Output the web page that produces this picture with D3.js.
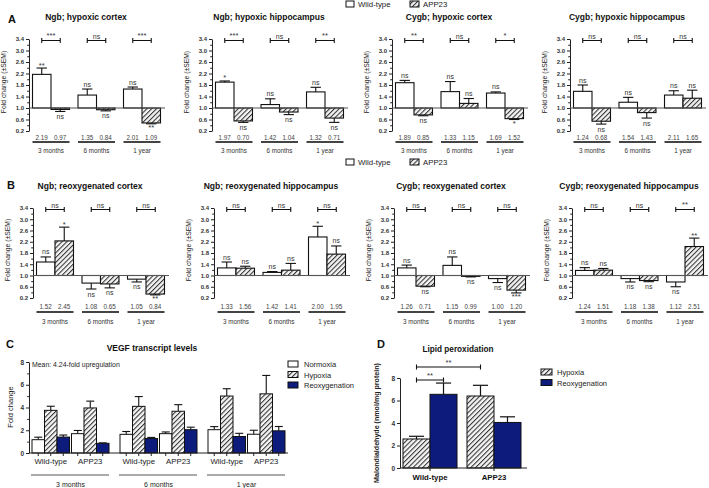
<!DOCTYPE html>
<html><head><meta charset="utf-8">
<script src="https://cdn.jsdelivr.net/npm/d3@7"></script>
<style>body{margin:0;background:#fff;} svg{display:block;font-family:"Liberation Sans",Arial,sans-serif;}</style>
</head><body><svg id="c" width="709" height="488"></svg>
<script>
// ---------- DATA ----------
const timepoints = ["3 months","6 months","1 year"];
const genotypes = ["Wild-type","APP23"];
const foldTicks = [0.2,0.6,1.0,1.4,1.8,2.2,2.6,3.0,3.4];
const foldMinor = [0.4,0.8,1.2,1.6,2.0,2.4,2.8,3.2];

// Panel A: hypoxic (order of subplots: Ngb cortex, Ngb hippocampus, Cygb cortex, Cygb hippocampus)
const hypTitles = ["Ngb; hypoxic cortex","Ngb; hypoxic hippocampus","Cygb; hypoxic cortex","Cygb; hypoxic hippocampus"];
const hypWT   = [[2.17,1.45,1.66],[1.90,1.12,1.56],[1.88,1.57,1.52],[1.58,1.20,1.45]];
const hypAPP  = [[0.95,0.94,0.48],[0.55,0.86,0.65],[0.76,1.16,0.63],[0.54,0.84,1.34]];
const hypWTSem  = [[0.22,0.21,0.07],[0.04,0.20,0.16],[0.08,0.35,0.04],[0.22,0.17,0.15]];
const hypAPPSem = [[0.07,0.04,0.03],[0.05,0.09,0.15],[0.03,0.17,0.03],[0.10,0.19,0.28]];
const hypWTSig  = [["**","ns","ns"],["*","ns","ns"],["ns","ns","ns"],["ns","ns","ns"]];
const hypAPPSig = [["ns","ns","**"],["ns","ns","ns"],["ns","ns","*"],["ns","ns","ns"]];
const hypBrackets = [["***","ns","***"],["***","ns","**"],["**","ns","*"],["ns","ns","ns"]];
const hypWTNum  = [["2.19","1.35","2.01"],["1.97","1.42","1.32"],["1.89","1.33","1.69"],["1.24","1.54","2.11"]];
const hypAPPNum = [["0.97","0.84","1.09"],["0.70","1.04","0.71"],["0.85","1.15","1.52"],["0.68","1.43","1.65"]];

// Panel B: reoxygenated
const reoTitles = ["Ngb; reoxygenated cortex","Ngb; reoxygenated hippocampus","Cygb; reoxygenated cortex","Cygb; reoxygenated hippocampus"];
const reoWT   = [[1.48,0.73,0.87],[1.27,1.11,2.37],[1.27,1.36,0.89],[1.18,0.89,0.77]];
const reoAPP  = [[2.23,0.70,0.34],[1.26,1.19,1.76],[0.62,0.97,0.48],[1.19,0.82,2.03]];
const reoWTSem  = [[0.18,0.21,0.10],[0.21,0.03,0.38],[0.10,0.30,0.14],[0.10,0.12,0.17]];
const reoAPPSem = [[0.49,0.14,0.03],[0.07,0.24,0.29],[0.02,0.02,0.10],[0.06,0.04,0.30]];
const reoWTSig  = [["ns","ns","ns"],["ns","ns","*"],["ns","ns","ns"],["ns","ns","ns"]];
const reoAPPSig = [["*","ns","**"],["ns","ns","ns"],["ns","ns","***"],["ns","ns","**"]];
const reoBrackets = [["ns","ns","ns"],["ns","ns","ns"],["ns","ns","ns"],["ns","ns","**"]];
const reoWTNum  = [["1.52","1.08","1.05"],["1.33","1.42","2.00"],["1.26","1.15","1.00"],["1.24","1.18","1.12"]];
const reoAPPNum = [["2.45","0.65","0.84"],["1.56","1.41","1.95"],["0.71","0.99","1.20"],["1.51","1.38","2.51"]];

// Panel C: VEGF (order: 3m WT, 3m APP23, 6m WT, 6m APP23, 1y WT, 1y APP23)
const vegfConditions = ["Normoxia","Hypoxia","Reoxygenation"];
const vegfNormoxia    = [1.17,1.70,1.64,1.70,2.05,1.65];
const vegfNormoxiaSem = [0.22,0.28,0.25,0.15,0.27,0.35];
const vegfHypoxia     = [3.75,3.96,4.10,3.67,5.01,5.20];
const vegfHypoxiaSem  = [0.36,0.60,0.86,0.58,0.64,1.62];
const vegfReox        = [1.40,0.85,1.27,2.05,1.45,1.95];
const vegfReoxSem     = [0.18,0.04,0.10,0.22,0.28,0.38];
const vegfTicks = [0,2,4,6,8];
const vegfMinor = [1,3,5,7];

// Panel D: lipid peroxidation
const lipidGroups = ["Wild-type","APP23"];
const lipidConditions = ["Hypoxia","Reoxygenation"];
const lipidHypoxia    = [2.58,6.40];
const lipidHypoxiaSem = [0.24,0.95];
const lipidReox       = [6.55,4.05];
const lipidReoxSem    = [1.00,0.50];
const lipidTicks = [0,2,4,6,8];

// ---------- DRAWING ----------
const FONT = "Liberation Sans, Arial, sans-serif";
const NAVY = "#0d1b7d";
const svg = d3.select("#c");
const defs = svg.append("defs");
const pat = defs.append("pattern").attr("id","hatch").attr("patternUnits","userSpaceOnUse")
  .attr("width",3.4).attr("height",3.4).attr("patternTransform","rotate(45)");
pat.append("rect").attr("width",3.4).attr("height",3.4).attr("fill","#f4f4f4");
pat.append("line").attr("x1",0.5).attr("y1",0).attr("x2",0.5).attr("y2",3.4).attr("stroke","#333").attr("stroke-width",1.1);

function txt(g,x,y,s,opts={}){
  const t = g.append("text").attr("x",x).attr("y",y).text(s)
    .attr("font-size",opts.size||7).attr("fill",opts.fill||"#222")
    .attr("text-anchor",opts.anchor||"start");
  if(opts.bold) t.attr("font-weight","bold");
  if(opts.rotate) t.attr("transform",`rotate(-90,${x},${y})`);
  return t;
}
function styleAxis(ax, size, bold){
  ax.attr("font-family",FONT).attr("font-size",size);
  ax.select(".domain").attr("stroke","#222").attr("stroke-width",1);
  ax.selectAll(".tick line").attr("stroke","#222");
  ax.selectAll(".tick text").attr("fill","#333").attr("font-weight",bold?"bold":"normal");
}
function sigLabel(g,x,yEnd,label,above){
  const star = label.indexOf("*")>=0;
  let yy;
  if(above) yy = star ? yEnd-0.5 : yEnd-2.5;
  else yy = star ? yEnd+6 : yEnd+7.5;
  txt(g,x,yy,label,{size:star?7.5:7,anchor:"middle",fill:"#333"});
}

function foldPanel(cfg){
  const g = svg.append("g");
  const y = d3.scaleLinear().domain([0.2,3.4]).range([cfg.yBot,cfg.yTop]);
  const gx = d3.scaleBand().domain(timepoints).range([cfg.x0+3.5,cfg.x0+131.5]).paddingInner(0.187);
  const gi = d3.scaleBand().domain(genotypes).range([0,gx.bandwidth()]);
  txt(g,cfg.x0+57,cfg.titleY,cfg.title,{size:8.5,bold:true,anchor:"middle",fill:"#111"});
  const ax = g.append("g").attr("transform",`translate(${cfg.x0},0)`)
    .call(d3.axisLeft(y).tickValues(foldTicks).tickFormat(d3.format(".1f")).tickSize(3).tickSizeOuter(0).tickPadding(2));
  styleAxis(ax,6,true);
  const axm = g.append("g").attr("transform",`translate(${cfg.x0},0)`)
    .call(d3.axisLeft(y).tickValues(foldMinor).tickFormat("").tickSize(1.8).tickSizeOuter(0));
  axm.select(".domain").remove(); axm.selectAll("line").attr("stroke","#222");
  const ym = (cfg.yTop+cfg.yBot)/2 - 3;
  txt(g,cfg.x0-23,ym,"Fold change (±SEM)",{size:6.8,anchor:"middle",rotate:true,fill:"#222"});
  timepoints.forEach((tp,i)=>{
    const vals = [cfg.wt[i],cfg.app[i]], sems=[cfg.wtSem[i],cfg.appSem[i]], sigs=[cfg.wtSig[i],cfg.appSig[i]], nums=[cfg.wtNum[i],cfg.appNum[i]];
    genotypes.forEach((gt,j)=>{
      const v = vals[j], bx = gx(tp)+gi(gt), bw = gi.bandwidth(), cx = bx+bw/2;
      g.append("rect").attr("x",bx).attr("width",bw)
        .attr("y",y(Math.max(v,1))).attr("height",Math.abs(y(v)-y(1)))
        .attr("fill",j===0?"#fff":"url(#hatch)").attr("stroke","#111").attr("stroke-width",1.1);
      const end = v>=1 ? v+sems[j] : v-sems[j];
      g.append("line").attr("x1",cx).attr("x2",cx).attr("y1",y(v)).attr("y2",y(end)).attr("stroke","#111").attr("stroke-width",1.1);
      g.append("line").attr("x1",cx-bw*0.28).attr("x2",cx+bw*0.28).attr("y1",y(end)).attr("y2",y(end)).attr("stroke","#111").attr("stroke-width",1.1);
      sigLabel(g,cx,y(end),sigs[j],v>=1);
      txt(g,cx,cfg.yBot+cfg.numDy,nums[j],{size:6.3,anchor:"middle",fill:"#444"});
    });
    // bracket
    const c1 = gx(tp)+gi(genotypes[0])+gi.bandwidth()/2, c2 = gx(tp)+gi(genotypes[1])+gi.bandwidth()/2;
    const by = cfg.yTop+1.5;
    g.append("path").attr("d",`M${c1},${by-2.5}V${by+2.5}M${c1},${by}H${c2}M${c2},${by-2.5}V${by+2.5}`)
      .attr("stroke","#111").attr("stroke-width",1.1).attr("fill","none");
    const bl = cfg.brackets[i];
    txt(g,(c1+c2)/2, bl.indexOf("*")>=0 ? by-3 : by-1.8, bl,{size:bl.indexOf("*")>=0?7.5:7,anchor:"middle",fill:"#333"});
    // underline and month label
    g.append("line").attr("x1",gx(tp)).attr("x2",gx(tp)+gx.bandwidth()).attr("y1",cfg.yBot+cfg.lineDy).attr("y2",cfg.yBot+cfg.lineDy)
      .attr("stroke","#444").attr("stroke-width",2);
    txt(g,gx(tp)+gx.bandwidth()/2,cfg.yBot+cfg.monthDy,tp,{size:6.3,anchor:"middle",fill:"#333"});
  });
  // baseline at 1.0
  g.append("line").attr("x1",cfg.x0).attr("x2",cfg.x0+136).attr("y1",y(1)).attr("y2",y(1)).attr("stroke","#555").attr("stroke-width",1.2);
}

function genoLegend(yc){
  const g = svg.append("g");
  g.append("rect").attr("x",346).attr("y",yc-3).attr("width",8).attr("height",6).attr("fill","#fff").attr("stroke","#111");
  txt(g,358,yc+3,genotypes[0],{size:7.8,fill:"#222"});
  g.append("rect").attr("x",410).attr("y",yc-3).attr("width",9).attr("height",6).attr("fill","url(#hatch)").attr("stroke","#111");
  txt(g,423,yc+3,genotypes[1],{size:7.8,fill:"#222"});
}

// Panel A
txt(svg,8,23,"A",{size:11,bold:true,fill:"#111"});
genoLegend(4);
const xA = [29,212,392,570];
xA.forEach((x0,k)=>foldPanel({x0,yTop:39,yBot:131,titleY:19.5,title:hypTitles[k],
  wt:hypWT[k],app:hypAPP[k],wtSem:hypWTSem[k],appSem:hypAPPSem[k],wtSig:hypWTSig[k],appSig:hypAPPSig[k],
  brackets:hypBrackets[k],wtNum:hypWTNum[k],appNum:hypAPPNum[k],numDy:8.5,lineDy:11,monthDy:22}));

// Panel B
txt(svg,7,189,"B",{size:11,bold:true,fill:"#111"});
genoLegend(162);
const xB = [33,214,394,572];
xB.forEach((x0,k)=>foldPanel({x0,yTop:208,yBot:298,titleY:188.5,title:reoTitles[k],
  wt:reoWT[k],app:reoAPP[k],wtSem:reoWTSem[k],appSem:reoAPPSem[k],wtSig:reoWTSig[k],appSig:reoAPPSig[k],
  brackets:reoBrackets[k],wtNum:reoWTNum[k],appNum:reoAPPNum[k],numDy:11,lineDy:14,monthDy:25.5}));

// Panel C
(function(){
  const g = svg.append("g");
  txt(g,6,348,"C",{size:11,bold:true,fill:"#111"});
  txt(g,152,351,"VEGF transcript levels",{size:8.5,bold:true,anchor:"middle",fill:"#111"});
  const y = d3.scaleLinear().domain([0,8]).range([453,362]);
  const tx = d3.scaleBand().domain(timepoints).range([32,285]).paddingInner(0.125);
  const gx = d3.scaleBand().domain(genotypes).range([0,tx.bandwidth()]).paddingInner(0.0506);
  const cx = d3.scaleBand().domain(vegfConditions).range([0,gx.bandwidth()]);
  const ax = g.append("g").attr("transform","translate(29,0)")
    .call(d3.axisLeft(y).tickValues(vegfTicks).tickSize(3).tickSizeOuter(0).tickPadding(2));
  styleAxis(ax,6.5,true);
  const axm = g.append("g").attr("transform","translate(29,0)").call(d3.axisLeft(y).tickValues(vegfMinor).tickFormat("").tickSize(1.8).tickSizeOuter(0));
  axm.select(".domain").remove(); axm.selectAll("line").attr("stroke","#222");
  txt(g,13,407,"Fold change",{size:7.5,anchor:"middle",rotate:true,fill:"#222"});
  txt(g,32,367,"Mean: 4.24-fold upregulation",{size:6.9,fill:"#222"});
  const series = [[vegfNormoxia,vegfNormoxiaSem],[vegfHypoxia,vegfHypoxiaSem],[vegfReox,vegfReoxSem]];
  const fills = ["#fff","url(#hatch)",NAVY];
  const centers = [];
  timepoints.forEach((tp,i)=>{
    genotypes.forEach((gt,j)=>{
      const idx = i*2+j;
      vegfConditions.forEach((cd,k)=>{
        const v = series[k][0][idx], s = series[k][1][idx];
        const bx = tx(tp)+gx(gt)+cx(cd), bw = cx.bandwidth(), c = bx+bw/2;
        centers.push(c);
        g.append("line").attr("x1",c).attr("x2",c).attr("y1",y(v)).attr("y2",y(v+s)).attr("stroke","#111").attr("stroke-width",1.1);
        g.append("line").attr("x1",c-bw*0.32).attr("x2",c+bw*0.32).attr("y1",y(v+s)).attr("y2",y(v+s)).attr("stroke","#111").attr("stroke-width",1.1);
        g.append("rect").attr("x",bx).attr("width",bw).attr("y",y(v)).attr("height",y(0)-y(v))
          .attr("fill",fills[k]).attr("stroke","#111").attr("stroke-width",1);
      });
      txt(g,tx(tp)+gx(gt)+gx.bandwidth()/2,464,gt,{size:7.8,anchor:"middle",fill:"#222"});
    });
    g.append("line").attr("x1",tx(tp)-1).attr("x2",tx(tp)+tx.bandwidth()).attr("y1",475).attr("y2",475).attr("stroke","#555").attr("stroke-width",1);
    txt(g,tx(tp)+tx.bandwidth()/2,487,tp,{size:7,anchor:"middle",fill:"#222"});
  });
  g.append("line").attr("x1",29).attr("x2",288).attr("y1",y(0)).attr("y2",y(0)).attr("stroke","#222");
  centers.forEach(c=>g.append("line").attr("x1",c).attr("x2",c).attr("y1",y(0)).attr("y2",y(0)+3).attr("stroke","#222"));
  // legend
  vegfConditions.forEach((cd,k)=>{
    const yc = [364,374.5,385][k];
    g.append("rect").attr("x",288).attr("y",yc-3).attr("width",10).attr("height",6).attr("fill",fills[k]).attr("stroke","#111");
    txt(g,304,yc+3,cd,{size:7.5,fill:"#222"});
  });
})();

// Panel D
(function(){
  const g = svg.append("g");
  txt(g,377,348,"D",{size:11,bold:true,fill:"#111"});
  txt(g,458,352,"Lipid peroxidation",{size:8.2,bold:true,anchor:"middle",fill:"#111"});
  const y = d3.scaleLinear().domain([0,8]).range([468,378]);
  const gx = d3.scaleBand().domain(lipidGroups).range([403,521]).paddingInner(0.156);
  const cx = d3.scaleBand().domain(lipidConditions).range([0,gx.bandwidth()]);
  const ax = g.append("g").attr("transform","translate(400,0)")
    .call(d3.axisLeft(y).tickValues(lipidTicks).tickSize(3).tickSizeOuter(0).tickPadding(2));
  styleAxis(ax,6.5,true);
  txt(g,379,423,"Malondialdehyde (nmol/mg protein)",{size:7.1,bold:true,anchor:"middle",rotate:true,fill:"#222"});
  const series = [[lipidHypoxia,lipidHypoxiaSem],[lipidReox,lipidReoxSem]];
  const fills = ["url(#hatch)",NAVY];
  lipidGroups.forEach((gr,i)=>{
    lipidConditions.forEach((cd,k)=>{
      const v = series[k][0][i], s = series[k][1][i];
      const bx = gx(gr)+cx(cd), bw = cx.bandwidth(), c = bx+bw/2;
      g.append("line").attr("x1",c).attr("x2",c).attr("y1",y(v)).attr("y2",y(v+s)).attr("stroke","#111").attr("stroke-width",1.2);
      g.append("line").attr("x1",c-bw*0.28).attr("x2",c+bw*0.28).attr("y1",y(v+s)).attr("y2",y(v+s)).attr("stroke","#111").attr("stroke-width",1.2);
      g.append("rect").attr("x",bx).attr("width",bw).attr("y",y(v)).attr("height",y(0)-y(v))
        .attr("fill",fills[k]).attr("stroke","#111").attr("stroke-width",1);
    });
    const gc = gx(gr)+gx.bandwidth()/2;
    g.append("line").attr("x1",gc).attr("x2",gc).attr("y1",y(0)).attr("y2",y(0)+3).attr("stroke","#222");
    txt(g,gc,480,gr,{size:7.8,bold:true,anchor:"middle",fill:"#111"});
  });
  g.append("line").attr("x1",400).attr("x2",527).attr("y1",y(0)).attr("y2",y(0)).attr("stroke","#222");
  // brackets
  const cWH = gx(lipidGroups[0])+cx(lipidConditions[0])+cx.bandwidth()/2;
  const cWR = gx(lipidGroups[0])+cx(lipidConditions[1])+cx.bandwidth()/2;
  const cAH = gx(lipidGroups[1])+cx(lipidConditions[0])+cx.bandwidth()/2;
  [[cWH,cWR,380],[cWH,cAH,367]].forEach(([a,b,by])=>{
    g.append("path").attr("d",`M${a},${by-2.5}V${by+2.5}M${a},${by}H${b}M${b},${by-2.5}V${by+2.5}`)
      .attr("stroke","#111").attr("stroke-width",1.1).attr("fill","none");
    txt(g,(a+b)/2,by-2.5,"**",{size:7.5,anchor:"middle",fill:"#333"});
  });
  lipidConditions.forEach((cd,k)=>{
    const yc = [372,382.5][k];
    g.append("rect").attr("x",541).attr("y",yc-3).attr("width",11).attr("height",6).attr("fill",fills[k]).attr("stroke","#111");
    txt(g,557,yc+3,cd,{size:7.5,fill:"#222"});
  });
})();
</script></body></html>
